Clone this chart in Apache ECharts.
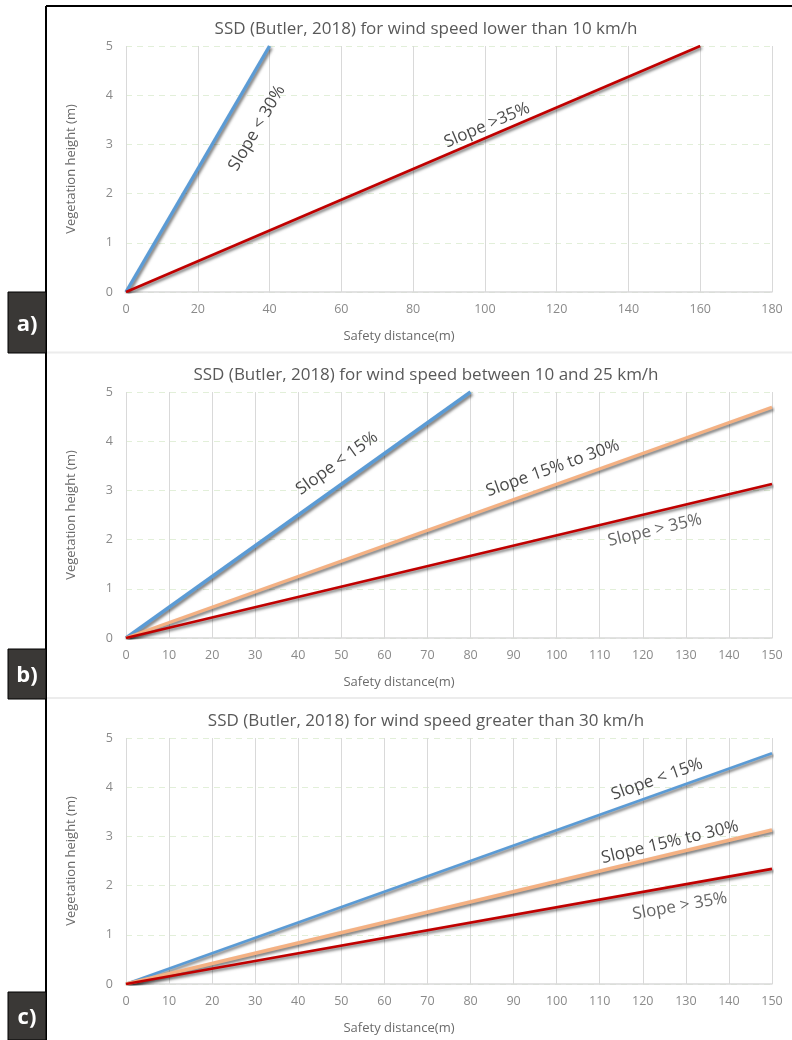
<!DOCTYPE html>
<html>
<head>
<meta charset="utf-8">
<script src="https://cdn.jsdelivr.net/npm/echarts@6/dist/echarts.min.js"></script>
<style>
  html, body { margin: 0; padding: 0; background: #ffffff; }
  #chart { width: 792px; height: 1040px; }
</style>
</head>
<body>
<div id="chart"></div>
<script>
// ---- Data: safety distance (m) vs vegetation height (m) ----
const panelTitles = [
  'SSD (Butler, 2018) for wind speed lower than 10 km/h',
  'SSD (Butler, 2018) for wind speed between 10 and 25 km/h',
  'SSD (Butler, 2018) for wind speed greater than 30 km/h'
];
const panelTags = ['a)', 'b)', 'c)'];
const xMaxes = [180, 150, 150];
const xSteps = [20, 10, 10];
const yMax = 5;
const yStep = 1;

// panel a: wind < 10 km/h
const aSlopeUnder30 = [[0, 0], [40, 5]];
const aSlopeOver35 = [[0, 0], [160, 5]];
// panel b: wind 10-25 km/h
const bSlopeUnder15 = [[0, 0], [80, 5]];
const bSlope15to30 = [[0, 0], [150, 4.69]];
const bSlopeOver35 = [[0, 0], [150, 3.13]];
// panel c: wind > 30 km/h
const cSlopeUnder15 = [[0, 0], [150, 4.69]];
const cSlope15to30 = [[0, 0], [150, 3.13]];
const cSlopeOver35 = [[0, 0], [150, 2.34]];

// in-plot annotations: text, anchor point (data units), colour
const aLabels = [
  { text: 'Slope < 30%', at: [36.5, 3.33], follows: aSlopeUnder30, color: '#1a1a1a' },
  { text: 'Slope >35%', at: [100.6, 3.39], follows: aSlopeOver35, color: '#1a1a1a' }
];
const bLabels = [
  { text: 'Slope < 15%', at: [49.0, 3.55], follows: bSlopeUnder15, color: '#1a1a1a' },
  { text: 'Slope 15% to 30%', at: [99.1, 3.45], follows: bSlope15to30, color: '#1a1a1a' },
  { text: 'Slope > 35%', at: [122.8, 2.19], follows: bSlopeOver35, color: '#404040' }
];
const cLabels = [
  { text: 'Slope < 15%', at: [123.3, 4.16], follows: cSlopeUnder15, color: '#1a1a1a' },
  { text: 'Slope 15% to 30%', at: [126.3, 2.88], follows: cSlope15to30, color: '#1a1a1a' },
  { text: 'Slope > 35%', at: [128.6, 1.58], follows: cSlopeOver35, color: '#404040' }
];

const BLUE = '#5b9bd5', ORANGE = '#f4b183', RED = '#c00000';
const panelSeries = [
  [{ d: aSlopeUnder30, c: BLUE, w: 3.4 }, { d: aSlopeOver35, c: RED, w: 2.6 }],
  [{ d: bSlopeUnder15, c: BLUE, w: 3.4 }, { d: bSlope15to30, c: ORANGE, w: 3.2 }, { d: bSlopeOver35, c: RED, w: 2.6 }],
  [{ d: cSlopeUnder15, c: BLUE, w: 2.6 }, { d: cSlope15to30, c: ORANGE, w: 3.6 }, { d: cSlopeOver35, c: RED, w: 2.6 }]
];
const panelLabels = [aLabels, bLabels, cLabels];

// ---- Layout ----
const FONT = '"Open Sans", sans-serif';
const gridTops = [46, 392, 738];
const gridH = 246;
const gridLeft = 126, gridRight = 20;
const tagBoxes = [[8, 292, 38, 61], [8, 649, 38, 50], [8, 992, 38, 48]];

const chart = echarts.init(document.getElementById('chart'), null, { renderer: 'canvas' });

const grids = [], xAxes = [], yAxes = [], titles = [], series = [];
gridTops.forEach((top, i) => {
  grids.push({ left: gridLeft, right: gridRight, top: top, height: gridH, containLabel: false });
  titles.push({
    text: panelTitles[i], left: 421, top: top - 30, textAlign: 'center',
    textStyle: { fontFamily: FONT, fontSize: 17, fontWeight: 'normal', color: '#595959' }
  });
  xAxes.push({
    type: 'value', gridIndex: i, min: 0, max: xMaxes[i], interval: xSteps[i],
    name: 'Safety distance(m)', nameLocation: 'middle', nameGap: 38,
    nameTextStyle: { fontFamily: FONT, fontSize: 13, color: '#6b6b6b', padding: [0, 100, 0, 0] },
    axisLine: { show: true, lineStyle: { color: '#d9d9d9', width: 1.5 } },
    axisTick: { show: false },
    axisLabel: { margin: 11, fontFamily: FONT, fontSize: 12.5, color: '#8a8a8a' },
    splitLine: { show: true, lineStyle: { color: '#d9d9d9', width: 1 } }
  });
  yAxes.push({
    type: 'value', gridIndex: i, min: 0, max: yMax, interval: yStep,
    name: 'Vegetation height (m)', nameLocation: 'middle', nameGap: 48, nameRotate: 90,
    nameTextStyle: { fontFamily: FONT, fontSize: 13, color: '#6b6b6b' },
    axisLine: { show: false },
    axisTick: { show: false },
    axisLabel: { margin: 13, fontFamily: FONT, fontSize: 12.5, color: '#8a8a8a' },
    splitLine: { show: true, lineStyle: { color: '#e2efd9', width: 1.2, type: [6, 5] } }
  });
  panelSeries[i].forEach(s => {
    series.push({
      type: 'line', xAxisIndex: i, yAxisIndex: i, data: s.d,
      showSymbol: false, symbol: 'none', animation: false, clip: true,
      lineStyle: {
        color: s.c, width: s.w,
        shadowColor: 'rgba(0,0,0,0.55)', shadowBlur: 3, shadowOffsetX: 1.5, shadowOffsetY: 2
      }
    });
  });
});

// frame, panel separators and tag boxes
const graphics = [
  { type: 'line', shape: { x1: 46, y1: 6, x2: 792, y2: 6 }, style: { stroke: '#000', lineWidth: 2 } },
  { type: 'line', shape: { x1: 46, y1: 6, x2: 46, y2: 1040 }, style: { stroke: '#000', lineWidth: 2 } },
  { type: 'line', shape: { x1: 47, y1: 352.5, x2: 792, y2: 352.5 }, style: { stroke: '#ececec', lineWidth: 2 } },
  { type: 'line', shape: { x1: 47, y1: 698, x2: 792, y2: 698 }, style: { stroke: '#ececec', lineWidth: 2 } }
];
tagBoxes.forEach((b, i) => {
  graphics.push({
    type: 'rect', shape: { x: b[0], y: b[1], width: b[2], height: b[3] },
    style: { fill: '#3a3836', stroke: '#000', lineWidth: 1 }, z: 10
  });
  graphics.push({
    type: 'text', x: b[0] + b[2] / 2, y: b[1] + b[3] / 2 + 2, z: 11,
    style: {
      text: panelTags[i], fill: '#ffffff', font: 'bold 22px "Open Sans", sans-serif',
      textAlign: 'center', textVerticalAlign: 'middle'
    }
  });
});

const option = {
  animation: false,
  backgroundColor: '#ffffff',
  title: titles,
  grid: grids,
  xAxis: xAxes,
  yAxis: yAxes,
  series: series,
  graphic: graphics
};
chart.setOption(option);

// annotations laid along their lines: angle from the rendered slope of each line
panelLabels.forEach((labels, i) => {
  labels.forEach(l => {
    const p0 = chart.convertToPixel({ gridIndex: i }, l.follows[0]);
    const p1 = chart.convertToPixel({ gridIndex: i }, l.follows[l.follows.length - 1]);
    const angle = Math.atan2(p0[1] - p1[1], p1[0] - p0[0]) * 180 / Math.PI;
    series.push({
      type: 'scatter', xAxisIndex: i, yAxisIndex: i, symbolSize: 0, silent: true,
      data: [l.at], z: 5,
      label: {
        show: true, position: 'inside', rotate: angle, formatter: l.text,
        fontFamily: FONT, fontSize: 17, color: l.color
      }
    });
  });
});
chart.setOption({ series: series });
</script>
</body>
</html>
